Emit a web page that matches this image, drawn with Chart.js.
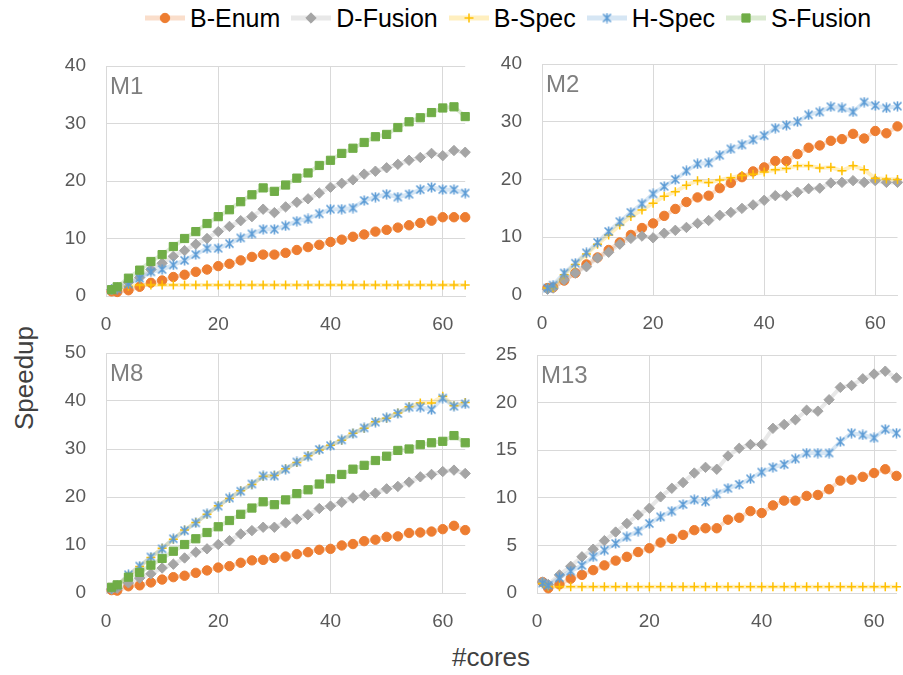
<!DOCTYPE html>
<html>
<head>
<meta charset="utf-8">
<script src="https://cdn.jsdelivr.net/npm/chart.js@4.4.1/dist/chart.umd.min.js"></script>
<style>
html, body { margin: 0; padding: 0; background: #fff; width: 903px; height: 675px; overflow: hidden;
  font-family: "Liberation Sans", Arial, sans-serif; }
canvas.panel { position: absolute; }
#legend { position: absolute; left: 145px; top: 4px; height: 28px; display: flex; align-items: center; }
.item { display: flex; align-items: center; margin-right: 11px; }
.item canvas { margin-right: 5px; }
.item span { font-size: 25px; line-height: 28px; color: #000; }
.mlabel { position: absolute; font-size: 24px; line-height: 24px; color: #7f7f7f; }
#ytitle { position: absolute; left: -76px; top: 363px; width: 200px; height: 30px; line-height: 30px;
  text-align: center; font-size: 26px; color: #404040; transform: rotate(-90deg); }
#xtitle { position: absolute; left: 391px; top: 643px; width: 200px; line-height: 28px;
  text-align: center; font-size: 26px; color: #404040; }
</style>
</head>
<body>
<div id="legend"></div>
<div id="ytitle">Speedup</div>
<div id="xtitle">#cores</div>
<script>
// x values (number of cores)
const cores = [1, 2, 4, 6, 8, 10, 12, 14, 16, 18, 20, 22, 24, 26, 28, 30, 32,
               34, 36, 38, 40, 42, 44, 46, 48, 50, 52, 54, 56, 58, 60, 62, 64];
const seriesNames = ['B-Enum', 'D-Fusion', 'B-Spec', 'H-Spec', 'S-Fusion'];
const xTicks = [0, 20, 40, 60];

// M1
const m1BEnum = [0.8,0.7,1.0,1.6,2.3,2.7,3.3,3.7,4.2,4.6,5.2,5.6,6.2,6.8,7.2,7.2,7.5,8.0,8.5,8.9,9.4,9.8,10.3,10.7,11.2,11.5,11.9,12.3,12.7,13.1,13.7,13.7,13.7];
const m1DFusion = [1.1,1.4,2.4,3.2,4.6,5.7,6.9,7.9,9.0,10.0,11.2,12.1,13.1,13.8,15.1,14.5,15.5,16.3,16.9,17.9,18.9,19.6,20.2,21.2,21.7,22.3,22.9,23.6,24.1,24.8,24.4,25.3,25.0];
const m1BSpec = [1.0,1.3,1.7,1.9,1.9,1.9,1.9,1.9,1.9,1.9,1.9,1.9,1.9,1.9,1.9,1.9,1.9,1.9,1.9,1.9,1.9,1.9,1.9,1.9,1.9,1.9,1.9,1.9,1.9,1.9,1.9,1.9,1.9];
const m1HSpec = [1.1,1.2,2.1,3.1,4.2,4.6,5.4,6.2,7.2,8.3,8.3,9.1,10.1,10.8,11.6,11.6,12.2,13.0,13.4,14.3,15.1,15.1,15.3,16.6,17.2,17.7,17.2,17.7,18.5,18.9,18.5,18.5,17.9];
const m1SFusion = [1.1,1.6,3.1,4.5,6.0,7.2,8.6,10.0,11.2,12.6,13.8,15.0,16.4,17.6,18.8,18.2,19.3,20.5,21.4,22.7,23.6,24.8,25.7,26.7,27.7,28.1,29.3,30.3,31.0,31.9,32.7,32.9,31.2];

// M2
const m2BEnum = [1.2,1.3,2.5,3.8,5.3,6.5,7.8,9.1,10.4,11.6,12.4,13.7,14.9,16.1,16.9,17.2,18.5,19.4,20.4,21.4,22.1,23.2,23.2,24.4,25.5,25.9,26.7,27.0,27.9,27.1,28.4,28.0,29.2];
const m2DFusion = [1.0,1.2,2.6,3.8,4.9,6.4,7.4,8.8,9.8,10.2,9.9,10.7,11.2,11.7,12.4,12.9,13.8,14.3,15.0,15.6,16.4,17.2,17.2,17.8,18.4,18.5,19.4,19.5,19.8,19.5,19.8,19.5,19.5];
const m2BSpec = [1.2,1.3,3.5,5.3,7.1,8.8,10.4,12.1,13.6,14.7,15.9,17.1,17.9,19.0,19.8,19.5,19.9,20.3,20.7,20.9,21.3,21.7,21.9,22.4,22.4,22.0,22.1,21.5,22.4,21.7,20.2,20.1,20.0];
const m2HSpec = [1.2,1.7,3.8,5.5,7.3,9.1,11.0,12.7,14.3,15.8,17.5,18.8,20.0,21.5,22.7,22.9,24.2,25.3,26.0,26.9,27.6,28.9,29.4,30.0,31.2,31.7,32.6,32.4,31.7,33.4,32.8,32.4,32.7];

// M8
const m8BEnum = [0.6,0.5,1.4,1.6,2.2,2.8,3.3,3.6,4.2,4.7,5.3,5.6,6.3,6.8,6.9,7.3,7.6,8.1,8.5,9.0,9.2,9.9,10.2,10.8,11.1,11.7,11.8,12.5,12.6,12.8,13.3,14.0,13.1];
const m8DFusion = [0.8,1.0,2.1,3.1,4.0,5.2,6.0,7.3,8.5,9.2,10.1,10.9,12.3,13.0,13.7,13.7,14.6,15.4,16.3,17.6,18.1,18.9,19.8,20.3,20.8,21.7,22.2,23.1,24.2,24.7,25.3,25.6,24.9];
const m8BSpec = [1.0,1.5,3.7,5.5,7.4,9.3,11.2,13.1,14.7,16.4,18.2,19.7,21.3,22.6,24.3,24.5,25.9,27.2,28.6,29.8,30.8,31.8,33.3,34.3,35.7,36.4,37.5,38.8,39.6,39.6,41.0,39.0,39.7];
const m8HSpec = [1.0,1.5,3.8,5.6,7.5,9.2,11.3,13.0,14.6,16.5,18.1,19.8,21.2,22.7,24.4,24.4,25.8,27.3,28.5,29.9,30.7,31.9,33.2,34.4,35.6,36.5,37.4,38.7,38.7,38.2,40.6,38.9,39.4];
const m8SFusion = [1.2,1.7,3.3,4.3,5.8,7.2,8.7,10.1,11.3,12.6,13.8,15.1,16.4,17.7,19.0,18.4,19.4,20.7,21.5,22.7,23.8,24.7,25.8,26.6,27.6,28.5,29.7,30.0,30.9,31.3,31.6,32.8,31.3];

// M13
const m13BEnum = [1.15,0.5,0.9,1.5,1.9,2.4,2.9,3.4,3.8,4.3,4.7,5.3,5.7,6.1,6.6,6.8,6.8,7.7,7.9,8.6,8.4,9.2,9.7,9.7,10.2,10.3,10.9,11.8,11.9,12.2,12.6,13.0,12.3];
const m13DFusion = [1.15,0.9,1.9,2.8,3.8,4.6,5.5,6.4,7.3,8.2,8.9,10.1,11.0,11.6,12.6,13.2,13.0,14.4,15.2,15.6,15.6,17.3,17.7,18.2,19.2,19.1,20.3,21.6,21.8,22.5,23.0,23.3,22.6];
const m13BSpec = [1.0,0.65,0.65,0.65,0.65,0.65,0.65,0.65,0.65,0.65,0.65,0.65,0.65,0.65,0.65,0.65,0.65,0.65,0.65,0.65,0.65,0.65,0.65,0.65,0.65,0.65,0.65,0.65,0.65,0.65,0.65,0.65,0.65];
const m13HSpec = [1.05,0.8,1.6,2.3,2.9,3.8,4.5,5.2,5.9,6.5,7.3,8.0,8.6,9.3,9.8,9.6,10.4,11.0,11.4,12.0,12.7,13.2,13.5,14.1,14.7,14.7,14.7,15.9,16.8,16.6,16.3,17.2,16.8];

// star marker (x with a vertical bar), like the Excel one
const star = document.createElement('canvas');
star.width = 11; star.height = 11;
(function () {
  const g = star.getContext('2d');
  g.strokeStyle = '#5B9BD5';
  g.lineWidth = 1.6;
  g.beginPath();
  g.moveTo(1.5, 1.5); g.lineTo(9.5, 9.5);
  g.moveTo(9.5, 1.5); g.lineTo(1.5, 9.5);
  g.moveTo(5.5, 0.5); g.lineTo(5.5, 10.5);
  g.stroke();
})();

const looks = {
  'B-Enum':   { color: '#ED7D31', line: 'rgba(237,125,49,0.25)',  style: 'circle',  radius: 4.7, bw: 1 },
  'D-Fusion': { color: '#A5A5A5', line: 'rgba(165,165,165,0.25)', style: 'rectRot', radius: 5.2, bw: 1 },
  'B-Spec':   { color: '#FFC000', line: 'rgba(255,192,0,0.25)',   style: 'cross',   radius: 4.5, bw: 1.5 },
  'H-Spec':   { color: '#5B9BD5', line: 'rgba(91,155,213,0.25)',  style: star,      radius: 5.5, bw: 1 },
  'S-Fusion': { color: '#70AD47', line: 'rgba(112,173,71,0.25)',  style: 'rect',    radius: 5.8, bw: 1 }
};

const tickFont = { family: '"Liberation Sans", Arial, sans-serif', size: 19 };

function makePanel(name, box, yMax, yStep, series) {
  const padL = 66, padT = 16, padR = 6, padB = 44;
  const w = box[1] - box[0], h = box[3] - box[2];
  const c = document.createElement('canvas');
  c.className = 'panel';
  c.width = w + padL + padR;
  c.height = h + padT + padB;
  c.style.left = (box[0] - padL) + 'px';
  c.style.top = (box[2] - padT) + 'px';
  document.body.appendChild(c);

  const lab = document.createElement('div');
  lab.className = 'mlabel';
  lab.textContent = name;
  lab.style.left = (box[0] + 4) + 'px';
  lab.style.top = (box[2] + 8) + 'px';
  document.body.appendChild(lab);

  const datasets = series.map(function (s, i) {
    const lk = looks[s.name];
    return {
      label: s.name,
      data: cores.map(function (x, j) { return { x: x, y: s.values[j] }; }),
      borderColor: lk.line,
      borderWidth: 4,
      pointStyle: lk.style,
      pointRadius: lk.radius,
      pointBackgroundColor: lk.color,
      pointBorderColor: lk.color,
      pointBorderWidth: lk.bw,
      tension: 0,
      clip: false,
      order: -i
    };
  });

  new Chart(c, {
    type: 'line',
    data: { datasets: datasets },
    options: {
      responsive: false,
      animation: false,
      layout: { padding: { left: 0, top: padT, right: padR, bottom: 0 } },
      plugins: { legend: { display: false }, tooltip: { enabled: false } },
      scales: {
        x: {
          type: 'linear', min: 0, max: 64,
          afterBuildTicks: function (s) { s.ticks = xTicks.map(function (v) { return { value: v }; }); },
          afterFit: function (s) { s.height = padB; s.paddingLeft = 0; s.paddingRight = 0; },
          ticks: { padding: 17, color: '#595959', font: tickFont, maxRotation: 0 },
          grid: { color: '#d9d9d9', drawTicks: false },
          border: { color: '#d9d9d9' }
        },
        y: {
          min: 0, max: yMax,
          afterFit: function (s) { s.width = padL; s.paddingTop = 0; s.paddingBottom = 0; },
          ticks: { stepSize: yStep, padding: 20, color: '#595959', font: tickFont },
          grid: { color: '#d9d9d9', drawTicks: false },
          border: { color: '#d9d9d9' }
        }
      }
    }
  });
}

makePanel('M1', [106, 466, 66, 296], 40, 10, [
  { name: 'B-Enum', values: m1BEnum },
  { name: 'D-Fusion', values: m1DFusion },
  { name: 'B-Spec', values: m1BSpec },
  { name: 'H-Spec', values: m1HSpec },
  { name: 'S-Fusion', values: m1SFusion }
]);
makePanel('M2', [542, 898, 64, 295], 40, 10, [
  { name: 'B-Enum', values: m2BEnum },
  { name: 'D-Fusion', values: m2DFusion },
  { name: 'B-Spec', values: m2BSpec },
  { name: 'H-Spec', values: m2HSpec }
]);
makePanel('M8', [106, 466, 353, 593], 50, 10, [
  { name: 'B-Enum', values: m8BEnum },
  { name: 'D-Fusion', values: m8DFusion },
  { name: 'B-Spec', values: m8BSpec },
  { name: 'H-Spec', values: m8HSpec },
  { name: 'S-Fusion', values: m8SFusion }
]);
makePanel('M13', [537, 897, 355, 593], 25, 5, [
  { name: 'B-Enum', values: m13BEnum },
  { name: 'D-Fusion', values: m13DFusion },
  { name: 'B-Spec', values: m13BSpec },
  { name: 'H-Spec', values: m13HSpec }
]);

// legend: pale line with the marker in the middle
const legend = document.getElementById('legend');
seriesNames.forEach(function (n) {
  const lk = looks[n];
  const item = document.createElement('div');
  item.className = 'item';
  const cv = document.createElement('canvas');
  cv.width = 40; cv.height = 20;
  const g = cv.getContext('2d');
  g.strokeStyle = lk.line;
  g.lineWidth = 5;
  g.beginPath(); g.moveTo(0, 10); g.lineTo(40, 10); g.stroke();
  g.fillStyle = lk.color;
  g.strokeStyle = lk.color;
  g.lineWidth = lk.bw;
  Chart.helpers.drawPoint(g, { pointStyle: lk.style, radius: lk.radius, borderWidth: lk.bw, rotation: 0 }, 20, 10);
  const sp = document.createElement('span');
  sp.textContent = n;
  item.appendChild(cv);
  item.appendChild(sp);
  legend.appendChild(item);
});
</script>
</body>
</html>
